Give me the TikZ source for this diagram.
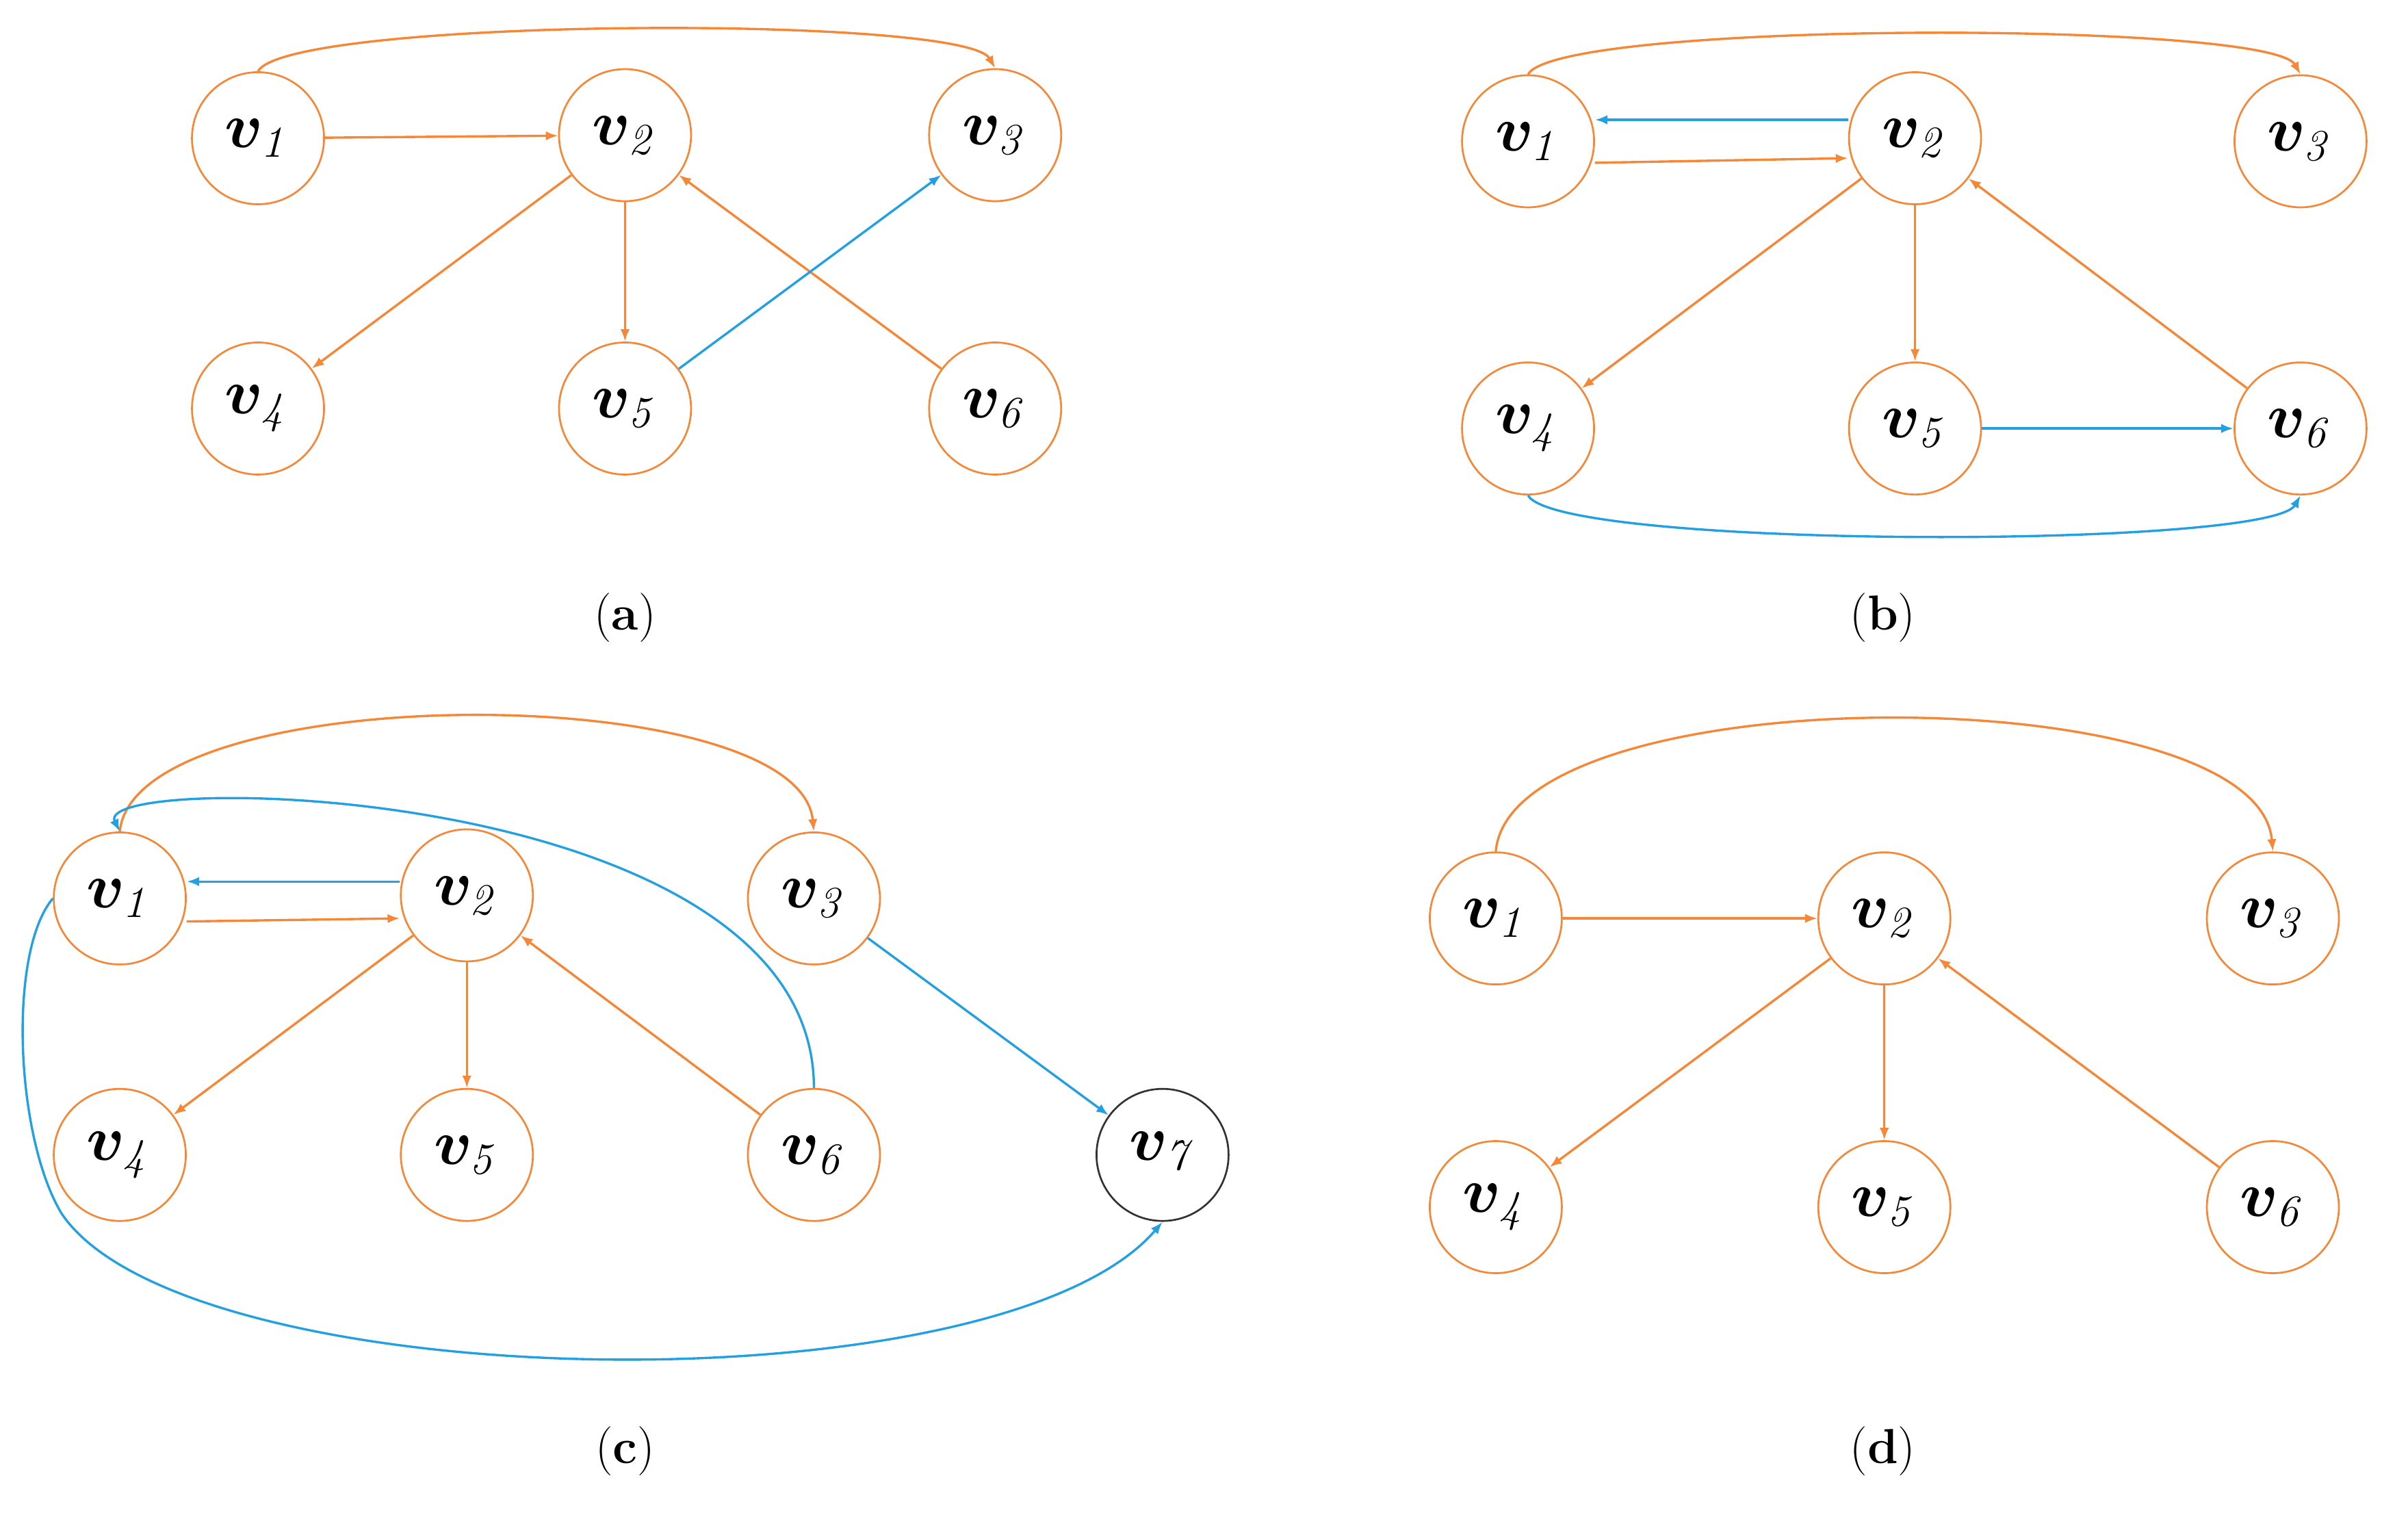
\documentclass[tikz,border=0pt]{standalone}
\usepackage{amsmath,bm}
\usetikzlibrary{arrows.meta}
\definecolor{org}{RGB}{245,135,55}
\definecolor{blu}{RGB}{35,160,225}
\begin{document}
\begin{tikzpicture}[x=0.5pt,y=-0.5pt,
 v/.style={circle,draw=org,line width=0.6pt,minimum size=43pt,inner sep=0pt,font=\fontsize{22}{26}\selectfont},
 vb/.style={v,draw=black!80},
 e/.style={draw=org,line width=0.75pt,-{Latex[length=4pt,width=3pt]}},
 b/.style={e,draw=blu},
 lbl/.style={font=\fontsize{16}{19}\selectfont}]
\useasboundingbox (0,0) rectangle (1568,985);
\newcommand{\vv}[1]{$\bm{v}_{\mathit{#1}}$}
% (a)
\node[v] (a1) at (168,90) {\vv1};
\node[v] (a2) at (407,88) {\vv2};
\node[v] (a3) at (648,88) {\vv3};
\node[v] (a4) at (168,266) {\vv4};
\node[v] (a5) at (407,266) {\vv5};
\node[v] (a6) at (648,266) {\vv6};
\node[lbl] (la) at (407,402) {(\textbf{a})};
\draw[e] (a1.north) .. controls +(20,-35) and +(-20,-35) .. (a3.north);
\draw[e] (a1) -- (a2);
\draw[e] (a2) -- (a4);
\draw[e] (a2) -- (a5);
\draw[e] (a6) -- (a2);
\draw[b] (a5) -- (a3);
% (b)
\node[v] (b1) at (995,92) {\vv1};
\node[v] (b2) at (1247,90) {\vv2};
\node[v] (b3) at (1498,92) {\vv3};
\node[v] (b4) at (995,279) {\vv4};
\node[v] (b5) at (1247,279) {\vv5};
\node[v] (b6) at (1498,279) {\vv6};
\node[lbl] (lb) at (1226,402) {(\textbf{b})};
\draw[e] (b1.north) .. controls +(20,-35) and +(-20,-35) .. (b3.north);
\draw[b] (b2.west|-0,78) -- (b1.east|-0,78);
\draw[e] (b1.east|-0,106) -- (b2.west|-0,103);
\draw[e] (b2) -- (b4);
\draw[e] (b2) -- (b5);
\draw[e] (b6) -- (b2);
\draw[b] (b5) -- (b6);
\draw[b] (b4.south) .. controls +(20,35) and +(-20,35) .. (b6.south);
% (c)
\node[v] (c1) at (78,585) {\vv1};
\node[v] (c2) at (304,583) {\vv2};
\node[v] (c3) at (530,585) {\vv3};
\node[v] (c4) at (78,752) {\vv4};
\node[v] (c5) at (304,752) {\vv5};
\node[v] (c6) at (530,752) {\vv6};
\node[vb] (c7) at (757,752) {\vv7};
\node[lbl] (lc) at (407,945) {(\textbf{c})};
\draw[e] (c1.north) .. controls +(10,-100) and +(-10,-100) .. (c3.north);
\draw[b] (c6.north) .. controls +(0,-200) and +(-20,-40) .. (c1.north);
\draw[b] (c2.west|-0,574) -- (c1.east|-0,574);
\draw[e] (c1.east|-0,600) -- (c2.west|-0,598);
\draw[e] (c2) -- (c4);
\draw[e] (c2) -- (c5);
\draw[e] (c6) -- (c2);
\draw[b] (c3) -- (c7);
\draw[b] (c1.west) .. controls (5,620) and (10,740) .. (40,790) .. controls (120,910) and (650,920) .. (c7.south);
% (d)
\node[v] (d1) at (974,598) {\vv1};
\node[v] (d2) at (1227,598) {\vv2};
\node[v] (d3) at (1480,598) {\vv3};
\node[v] (d4) at (974,786) {\vv4};
\node[v] (d5) at (1227,786) {\vv5};
\node[v] (d6) at (1480,786) {\vv6};
\node[lbl] (ld) at (1226,945) {(\textbf{d})};
\draw[e] (d1.north) .. controls +(10,-115) and +(-10,-115) .. (d3.north);
\draw[e] (d1) -- (d2);
\draw[e] (d2) -- (d4);
\draw[e] (d2) -- (d5);
\draw[e] (d6) -- (d2);
\end{tikzpicture}
\end{document}
